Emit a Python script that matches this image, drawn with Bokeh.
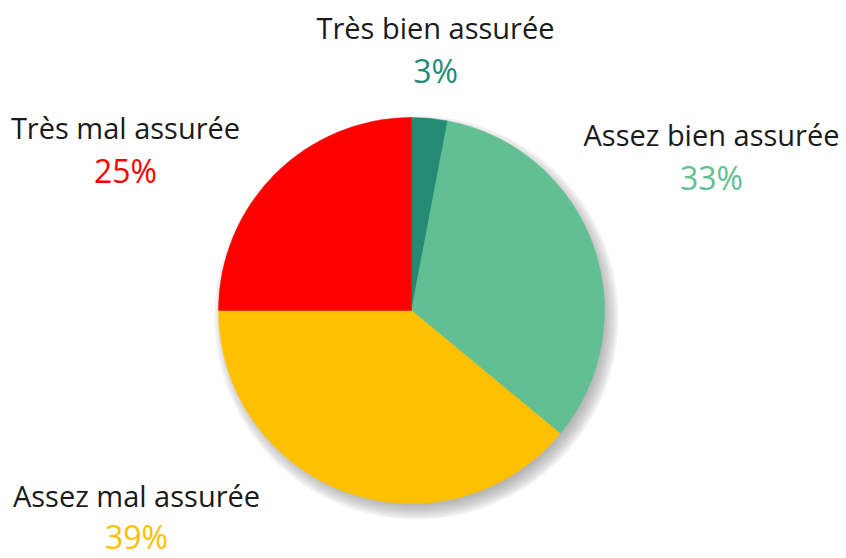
import math
from bokeh.plotting import figure
from bokeh.models import Range1d, ColumnDataSource
from bokeh.core.properties import value
from bokeh.embed import file_html
from bokeh.resources import INLINE

# ---- data ----
categories = ["Très bien assurée", "Assez bien assurée", "Assez mal assurée", "Très mal assurée"]
percents = [3, 33, 39, 25]
colors = ["#238B73", "#62BF94", "#FFC000", "#FF0000"]

# ---- layout (image pixel coords; y measured from top) ----
W, H = 846, 558
CX, CY, R = 411, 310, 193
label_pos = [(435, 27), (711, 134), (136, 495), (125, 127)]
pct_gap = [43, 43, 41, 43]
FONT = "Open Sans"

p = figure(width=W, height=H, output_backend="svg", toolbar_location=None,
           x_range=Range1d(0, W), y_range=Range1d(0, H), min_border=0)
p.axis.visible = False
p.grid.visible = False
p.outline_line_color = None
p.background_fill_color = "white"

def fy(y):
    return H - y

# shadow
for r in range(186, 203, 2):
    p.circle(x=[CX + 5], y=[fy(CY + 7)], radius=r, fill_color="#8a8a8a",
             fill_alpha=0.1, line_color=None)

# wedges
total = sum(percents)
starts, ends = [], []
cum = 0.0
for v in percents:
    starts.append(math.pi / 2 - 2 * math.pi * cum / total)
    cum += v
    ends.append(math.pi / 2 - 2 * math.pi * cum / total)
src = ColumnDataSource(dict(start=starts, end=ends, color=colors))
p.wedge(x=CX, y=fy(CY), radius=R, start_angle="start", end_angle="end",
        direction="clock", fill_color="color", line_color="color", line_width=0.5,
        source=src)

# labels
lab = ColumnDataSource(dict(
    x=[lp[0] for lp in label_pos],
    y=[fy(lp[1]) for lp in label_pos],
    y2=[fy(lp[1] + g) for lp, g in zip(label_pos, pct_gap)],
    name=categories,
    pct=[f"{v}%" for v in percents],
    color=colors,
))
p.text(x="x", y="y", text="name", source=lab, text_align="center",
       text_baseline="middle", text_font=value(FONT), text_font_size="29px",
       text_color="#1a1a1a")
p.text(x="x", y="y2", text="pct", source=lab, text_align="center",
       text_baseline="middle", text_font=value(FONT), text_font_size="32px",
       text_color="color")

open("out.html", "w").write(file_html(p, INLINE))
